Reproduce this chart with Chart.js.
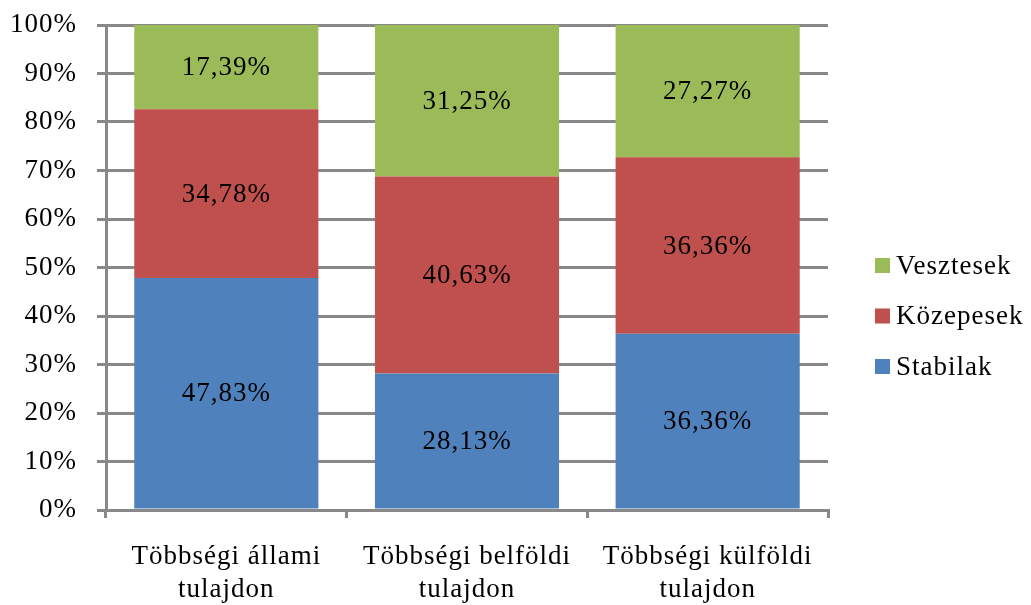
<!DOCTYPE html>
<html>
<head>
<meta charset="utf-8">
<script src="https://cdn.jsdelivr.net/npm/chart.js@4/dist/chart.umd.min.js"></script>
<style>
html,body{margin:0;padding:0;background:#fff;}
#wrap{width:1031px;height:605px;position:relative;}
</style>
</head>
<body>
<div id="wrap"><canvas id="c" width="1031" height="605"></canvas></div>
<script>
const categories = [["Többségi állami","tulajdon"],["Többségi belföldi","tulajdon"],["Többségi külföldi","tulajdon"]];
const seriesNames = ["Stabilak","Közepesek","Vesztesek"];
const stabilak = [47.83, 28.13, 36.36];
const kozepesek = [34.78, 40.63, 36.36];
const vesztesek = [17.39, 31.25, 27.27];
const seriesColors = ["#4F81BD","#C0504D","#9BBB59"];
const yTicks = [0,10,20,30,40,50,60,70,80,90,100];

const FONT = "'Liberation Serif','Times New Roman',serif";
const FS = 27;
const LS = '1px';
const fmt = v => v.toFixed(2).replace('.', ',') + '%';

const spacing = {
  id: 'spacing',
  beforeUpdate(chart) { chart.ctx.letterSpacing = LS; },
  beforeLayout(chart) { chart.ctx.letterSpacing = LS; },
  beforeDraw(chart) { chart.ctx.letterSpacing = LS; }
};

const dataLabels = {
  id: 'dataLabels',
  afterDatasetsDraw(chart) {
    const ctx = chart.ctx;
    ctx.save();
    ctx.letterSpacing = LS;
    ctx.font = FS + 'px ' + FONT;
    ctx.fillStyle = '#000';
    ctx.textAlign = 'center';
    ctx.textBaseline = 'middle';
    chart.data.datasets.forEach((ds, di) => {
      chart.getDatasetMeta(di).data.forEach((bar, i) => {
        const p = bar.getProps(['x','y','base'], true);
        ctx.fillText(fmt(ds.data[i]), p.x, (p.y + p.base) / 2 + 1);
      });
    });
    ctx.restore();
  }
};

const sideLegend = {
  id: 'sideLegend',
  afterDraw(chart) {
    const ctx = chart.ctx;
    ctx.save();
    ctx.letterSpacing = LS;
    ctx.font = FS + 'px ' + FONT;
    ctx.textBaseline = 'middle';
    ctx.textAlign = 'left';
    const n = chart.data.datasets.length;
    for (let k = 0; k < n; k++) {
      const ds = chart.data.datasets[n - 1 - k];
      const cy = 265.5 + k * 50.5;
      ctx.fillStyle = ds.backgroundColor;
      ctx.fillRect(875, cy - 7.5, 15, 15);
      ctx.fillStyle = '#000';
      ctx.fillText(ds.label, 896, cy + 1);
    }
    ctx.restore();
  }
};

const seriesData = [stabilak, kozepesek, vesztesek];
new Chart(document.getElementById('c'), {
  type: 'bar',
  data: {
    labels: categories,
    datasets: seriesNames.map((name, i) => ({
      label: name,
      data: seriesData[i],
      backgroundColor: seriesColors[i],
      borderWidth: 0,
      categoryPercentage: 1,
      barPercentage: 0.765
    }))
  },
  options: {
    responsive: false,
    animation: false,
    devicePixelRatio: 1,
    layout: { padding: { left: 0, right: 203, top: 25, bottom: 0 } },
    plugins: { legend: { display: false }, tooltip: { enabled: false } },
    scales: {
      x: {
        stacked: true,
        offset: true,
        afterFit(axis) { axis.height = 95; axis.paddingLeft = 0; axis.paddingRight = 0; },
        grid: { display: true, drawOnChartArea: false, drawTicks: true, tickLength: 8, color: '#888', lineWidth: 3, offset: true },
        border: { display: true, color: '#888', width: 3 },
        ticks: { color: '#000', font: { family: FONT, size: FS, lineHeight: 1.2 }, padding: 23, maxRotation: 0, autoSkip: false }
      },
      y: {
        stacked: true,
        min: 0, max: 100,
        afterBuildTicks(axis) { axis.ticks = yTicks.map(v => ({ value: v })); },
        afterFit(axis) { axis.width = 106; axis.paddingTop = 0; axis.paddingBottom = 0; },
        grid: { color: '#888', lineWidth: 3, tickLength: 9 },
        border: { display: true, color: '#888', width: 3 },
        ticks: { color: '#000', font: { family: FONT, size: FS }, padding: 20, callback: v => v + '%' }
      }
    }
  },
  plugins: [spacing, dataLabels, sideLegend]
});
</script>
</body>
</html>
